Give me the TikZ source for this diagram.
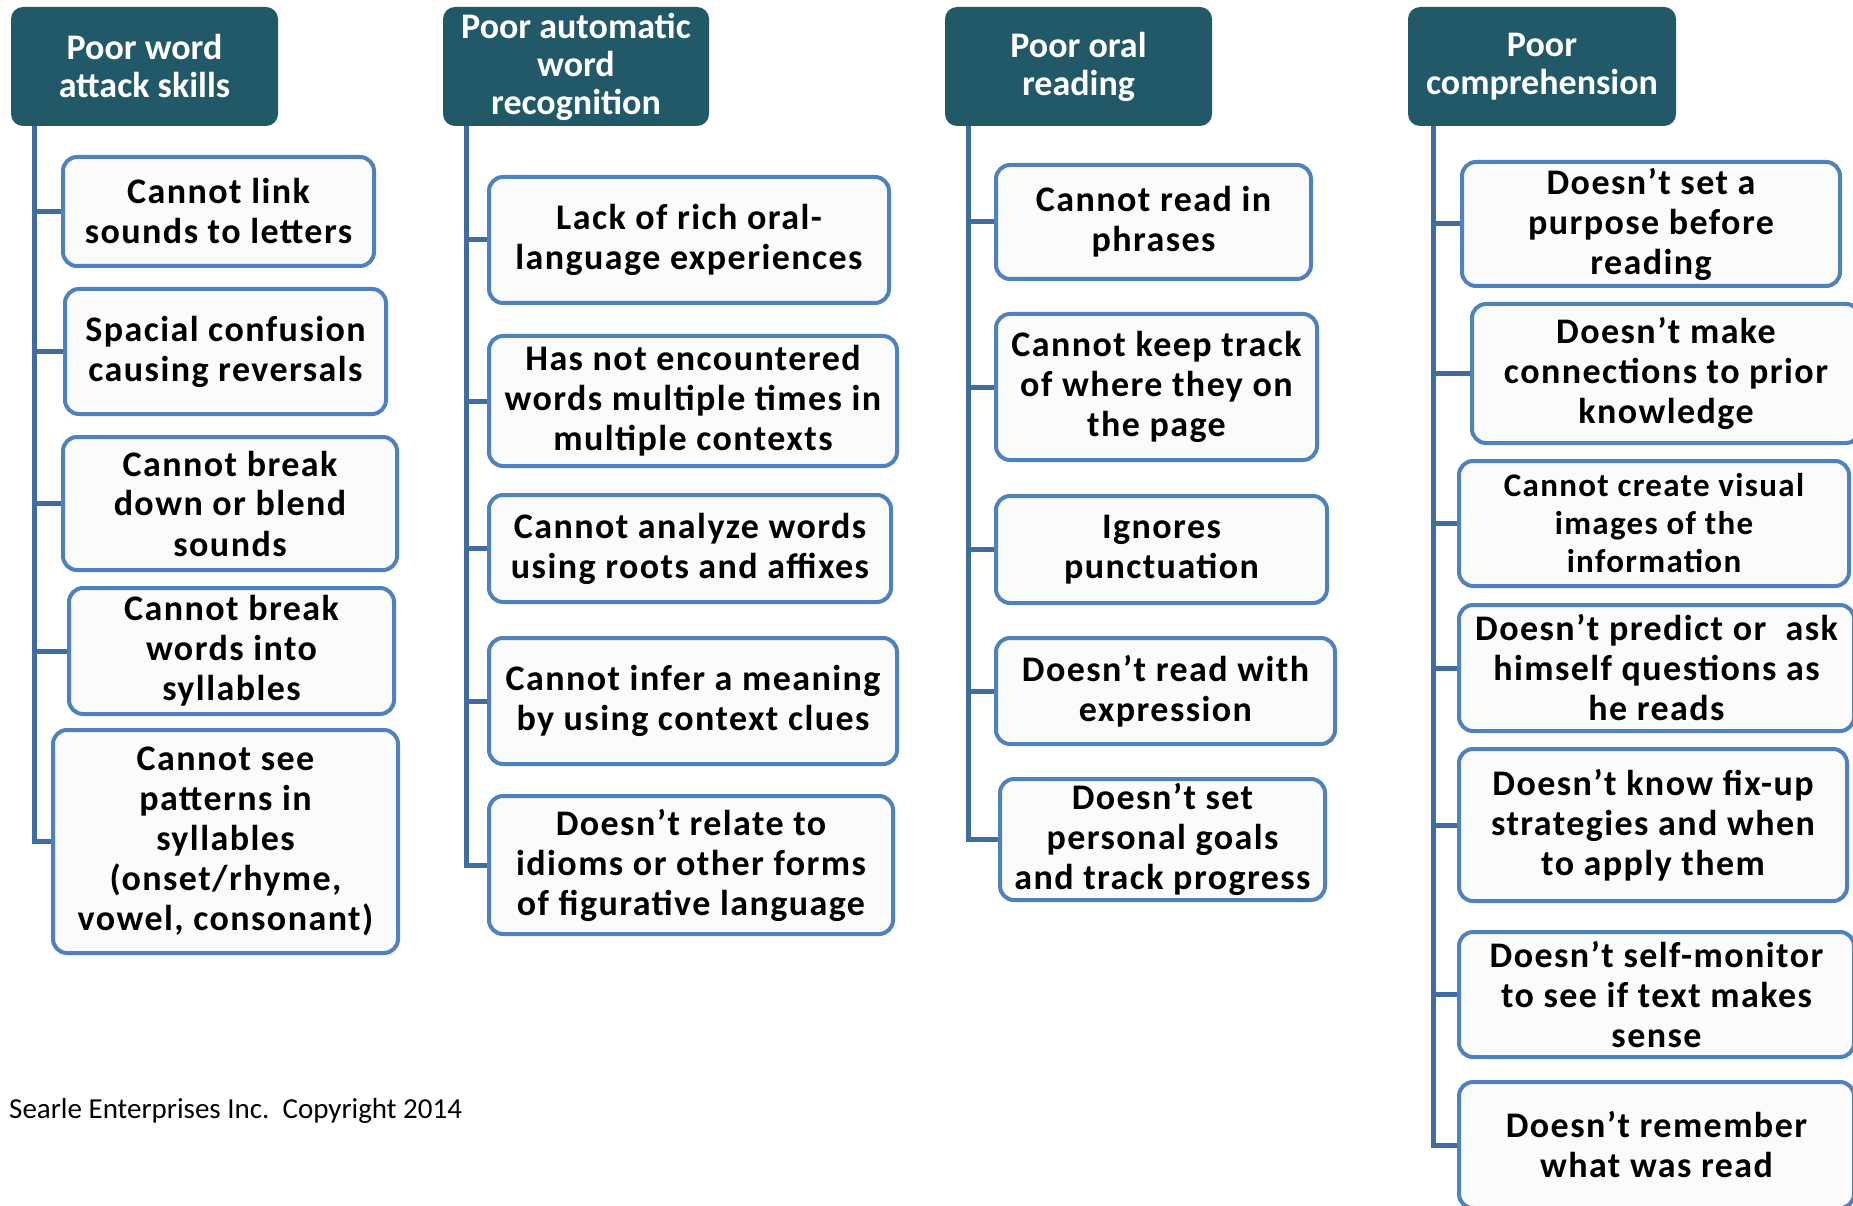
\documentclass[tikz,border=0pt]{standalone}
\usepackage{fontspec}
\setmainfont{Carlito}
\newfontfamily\leaffam{Carlito}[LetterSpace=4.0]
\definecolor{headfill}{RGB}{33,89,104}
\definecolor{boxline}{RGB}{79,129,189}
\definecolor{connline}{RGB}{65,108,160}
\definecolor{boxfill}{RGB}{251,251,251}
\tikzset{
  headbox/.style={draw=none, fill=headfill, rounded corners=12pt, inner sep=0pt,
    align=center, text=white, font=\fontsize{36}{38}\selectfont\bfseries},
  leafbox/.style={draw=boxline, line width=4pt, fill=boxfill, rounded corners=14pt,
    inner sep=0pt, align=center, text=black, font=\leaffam\fontsize{36}{40}\selectfont\bfseries},
  smalltext/.style={font=\leaffam\fontsize{33}{38}\selectfont\bfseries},
  conn/.style={draw=connline, line width=5pt},
}
% box from its corner coordinates (left, top, right, bottom), y measured downwards
\newcommand\cbox[7]{\node[#2, minimum width={(#5-#3-4)*1pt}, minimum height={(#6-#4-4)*1pt}]
  (#1) at ({(#3+#5)/2},{-(#4+#6)/2}) {#7};}
\begin{document}
\begin{tikzpicture}[x=1pt,y=1pt]
\useasboundingbox (0,0) rectangle (1853,-1206);

% column heads
\cbox{h1}{headbox}{9}{5}{280}{128}{Poor word\\attack skills}
\cbox{h2}{headbox}{441}{5}{711}{128}{Poor automatic\\word\\recognition}
\cbox{h3}{headbox}{943}{5}{1214}{128}{Poor oral\\reading}
\cbox{h4}{headbox}{1406}{5}{1678}{128}{Poor\\comprehension}

% word attack
\cbox{a1}{leafbox}{61}{155}{376}{268}{Cannot link\\sounds to letters}
\cbox{a2}{leafbox}{63}{287}{388}{416}{Spacial confusion\\causing reversals}
\cbox{a3}{leafbox}{61}{435}{399}{572}{Cannot break\\down or blend\\sounds}
\cbox{a4}{leafbox}{67}{586}{396}{716}{Cannot break\\words into\\syllables}
\cbox{a5}{leafbox}{51}{728}{400}{955}{Cannot see\\patterns in\\syllables\\(onset/rhyme,\\vowel, consonant)}

% automatic word recognition
\cbox{b1}{leafbox}{487}{175}{891}{305}{Lack of rich oral-\\language experiences}
\cbox{b2}{leafbox}{487}{334}{899}{468}{Has not encountered\\words multiple times in\\multiple contexts}
\cbox{b3}{leafbox}{487}{493}{893}{604}{Cannot analyze words\\using roots and affixes}
\cbox{b4}{leafbox}{487}{636}{899}{766}{Cannot infer a meaning\\by using context clues}
\cbox{b5}{leafbox}{487}{794}{895}{936}{Doesn’t relate to\\idioms or other forms\\of figurative language}

% oral reading
\cbox{c1}{leafbox}{994}{163}{1313}{281}{Cannot read in\\phrases}
\cbox{c2}{leafbox}{994}{312}{1319}{462}{Cannot keep track\\of where they on\\the page}
\cbox{c3}{leafbox}{994}{494}{1329}{605}{Ignores\\punctuation}
\cbox{c4}{leafbox}{994}{636}{1337}{746}{Doesn’t read with\\expression}
\cbox{c5}{leafbox}{998}{777}{1327}{902}{Doesn’t set\\personal goals\\and track progress}

% comprehension
\cbox{d1}{leafbox}{1460}{160}{1842}{288}{Doesn’t set a\\purpose before\\reading}
\cbox{d2}{leafbox}{1470}{302}{1862}{445}{Doesn’t make\\connections to prior\\knowledge}
\cbox{d3}{leafbox,smalltext}{1457}{459}{1851}{588}{Cannot create visual\\images of the\\information}
\cbox{d4}{leafbox}{1457}{603}{1856}{733}{Doesn’t predict or\ \ ask\\himself questions as\\he reads}
\cbox{d5}{leafbox}{1457}{747}{1849}{903}{Doesn’t know fix-up\\strategies and when\\to apply them}
\cbox{d6}{leafbox}{1457}{930}{1856}{1059}{Doesn’t self-monitor\\to see if text makes\\sense}
\cbox{d7}{leafbox}{1457}{1080}{1856}{1210}{Doesn’t remember\\what was read}

% trunks under each head
\coordinate (t1) at ([xshift=24pt]h1.south west);
\coordinate (t2) at ([xshift=24pt]h2.south west);
\coordinate (t3) at ([xshift=24pt]h3.south west);
\coordinate (t4) at ([xshift=26pt]h4.south west);

\foreach \n in {a1,a2,a3,a4,a5} {\draw[conn] (t1) |- (\n.west);}
\foreach \n in {b1,b2,b3,b4,b5} {\draw[conn] (t2) |- (\n.west);}
\foreach \n in {c1,c2,c3,c4,c5} {\draw[conn] (t3) |- (\n.west);}
\foreach \n in {d1,d2,d3,d4,d5,d6,d7} {\draw[conn] (t4) |- (\n.west);}

\node[anchor=base west, inner sep=0pt, font=\fontsize{29}{34}\selectfont] (copy) at (9,-1118)
  {Searle Enterprises Inc.\ \ Copyright 2014};
\end{tikzpicture}
\end{document}
